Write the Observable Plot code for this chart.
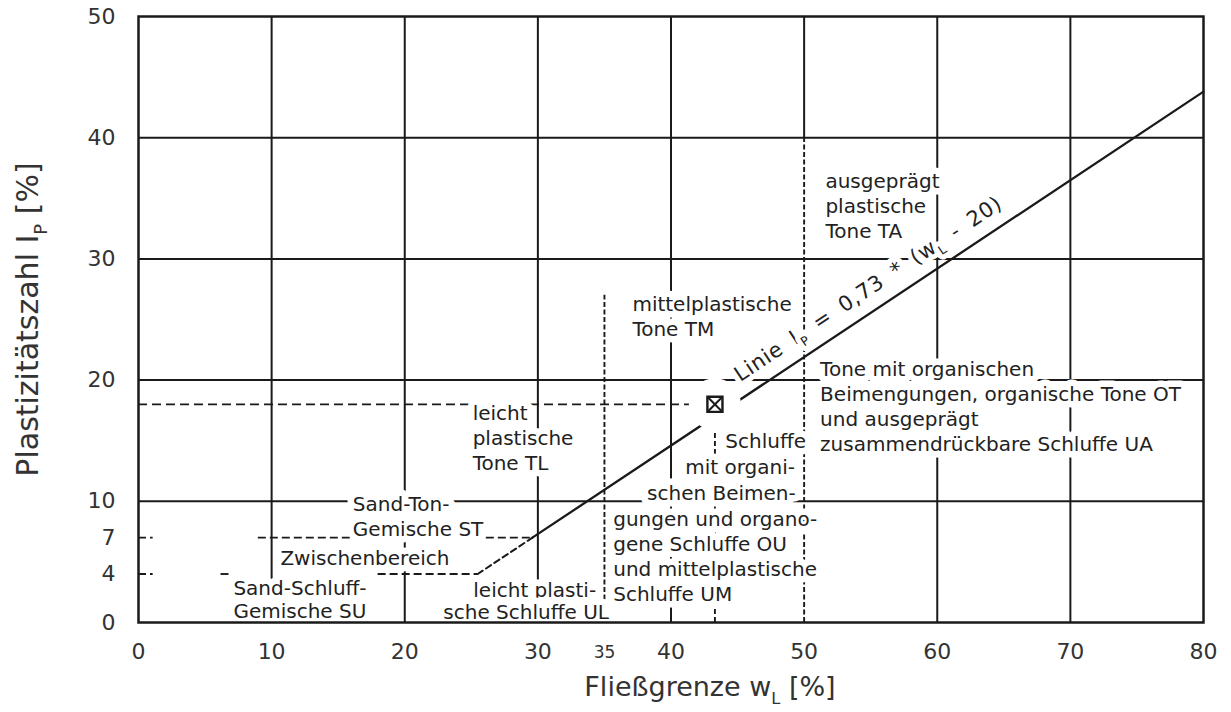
<!DOCTYPE html>
<html><head><meta charset="utf-8">
<script src="https://cdn.jsdelivr.net/npm/d3@7"></script>
<script src="https://cdn.jsdelivr.net/npm/@observablehq/plot@0.6"></script>
<style>
html,body{margin:0;padding:0;background:#fff;}
#chart svg{display:block;}
</style></head><body><div id="chart"></div>
<script>
// ---- data ----
const xTicks = [0, 10, 20, 30, 35, 40, 50, 60, 70, 80];
const yTicks = [0, 4, 7, 10, 20, 30, 40, 50];
const gridXFull = [10, 20, 30, 40, 60, 70];
const gridYFull = [10, 20, 30, 40];
const gridXPartial = [{x: 50, y1: 40, y2: 50}];
const aLineSolid = [{wL: 29.59, Ip: 7}, {wL: 80, Ip: 43.8}];
const aLineDashed = [{wL: 25.48, Ip: 4}, {wL: 29.59, Ip: 7}];
const sample = [{wL: 43.3, Ip: 18.0}];
const boundaryV = [{x: 35, y1: 0, y2: 27.0}, {x: 50, y1: 0, y2: 40}];
const boundaryH = [
  {y: 7, x1: 0, x2: 1.1}, {y: 7, x1: 9, x2: 29.59},
  {y: 4, x1: 0, x2: 1.1}, {y: 4, x1: 6.2, x2: 6.8}, {y: 4, x1: 18, x2: 25.48}
];
const projV = [{x: 43.3, y1: 0, y2: 18.0}];
const projH = [{y: 18.0, x1: 0, x2: 43.3}];
const zoneLabels = [
  {text: "ausgeprägt\nplastische\nTone TA", wL: 51.6, Ip: 37.3},
  {text: "mittelplastische\nTone TM", wL: 37.1, Ip: 27.2},
  {text: "Tone mit organischen\nBeimengungen, organische Tone OT\nund ausgeprägt\nzusammendrückbare Schluffe UA", wL: 51.2, Ip: 21.8},
  {text: "leicht\nplastische\nTone TL", wL: 25.1, Ip: 18.15},
  {text: "Sand-Ton-\nGemische ST", wL: 16.1, Ip: 10.7},
  {text: "Zwischenbereich", wL: 10.66, Ip: 6.2},
  {text: "Sand-Schluff-", wL: 7.13, Ip: 3.7},
  {text: "Gemische SU", wL: 7.13, Ip: 1.8},
  {text: "leicht plasti-", wL: 25.15, Ip: 3.6},
  {text: "sche Schluffe UL", wL: 22.9, Ip: 1.75},
  {text: "Schluffe", wL: 44.08, Ip: 15.84},
  {text: "mit organi-", wL: 41.07, Ip: 13.75},
  {text: "schen Beimen-", wL: 38.2, Ip: 11.58},
  {text: "gungen und organo-\ngene Schluffe OU\nund mittelplastische\nSchluffe UM", wL: 35.66, Ip: 9.43}
];
const formulaLabel = [{text: "Linie I_P = 0,73 * (w_L - 20)", wL: 45.2, Ip: 19.83}];
const xTitle = "Fließgrenze w_L [%]";
const yTitle = "Plastizitätszahl I_P [%]";

// ---- chart ----
const ink = "#1a1a1a";
const plot = Plot.plot({
  width: 1231,
  height: 712,
  marginLeft: 138,
  marginRight: 28,
  marginTop: 16,
  marginBottom: 90,
  style: {fontFamily: "'DejaVu Sans', Verdana, sans-serif", background: "#fff", color: "#222"},
  x: {domain: [0, 80]},
  y: {domain: [0, 50]},
  marks: [
    Plot.ruleX(gridXFull, {stroke: ink, strokeWidth: 2}),
    Plot.ruleY(gridYFull, {stroke: ink, strokeWidth: 2}),
    Plot.ruleX(gridXPartial, {x: "x", y1: "y1", y2: "y2", stroke: ink, strokeWidth: 2}),
    Plot.ruleX(boundaryV, {x: "x", y1: "y1", y2: "y2", stroke: ink, strokeWidth: 1.9, strokeDasharray: "5,2.5"}),
    Plot.ruleY(boundaryH, {y: "y", x1: "x1", x2: "x2", stroke: ink, strokeWidth: 1.9, strokeDasharray: "8,4"}),
    Plot.ruleX(projV, {x: "x", y1: "y1", y2: "y2", stroke: ink, strokeWidth: 1.9, strokeDasharray: "5,3"}),
    Plot.ruleY(projH, {y: "y", x1: "x1", x2: "x2", stroke: ink, strokeWidth: 1.9, strokeDasharray: "9,5"}),
    Plot.line(aLineSolid, {x: "wL", y: "Ip", stroke: ink, strokeWidth: 2.3}),
    Plot.line(aLineDashed, {x: "wL", y: "Ip", stroke: ink, strokeWidth: 2, strokeDasharray: "6,4"}),
    Plot.dot(sample, {x: "wL", y: "Ip", r: 26, fill: "white"}),
    Plot.dot(sample, {x: "wL", y: "Ip", r: 8.5, symbol: "square", fill: "white", stroke: ink, strokeWidth: 2.4}),
    Plot.dot(sample, {x: "wL", y: "Ip", r: 6.5, symbol: "times", stroke: ink, strokeWidth: 2}),
    Plot.text(zoneLabels, {
      x: "wL", y: "Ip", text: "text", textAnchor: "start", lineAnchor: "top",
      lineHeight: 1.25, fontSize: 20, fill: "#222",
      stroke: "white", strokeWidth: 13, paintOrder: "stroke", strokeLinejoin: "round"
    }),
    Plot.text(formulaLabel, {
      x: "wL", y: "Ip", text: "text", textAnchor: "start", lineAnchor: "bottom",
      rotate: -33.6, fontSize: 21, fill: "#222",
      stroke: "white", strokeWidth: 10, paintOrder: "stroke", strokeLinejoin: "round"
    }),
    Plot.frame({stroke: ink, strokeWidth: 2.5}),
    Plot.axisX(xTicks, {tickSize: 0, tickPadding: 21, fontSize: 22, color: "#333", label: null}),
    Plot.axisY(yTicks, {tickSize: 0, tickPadding: 23, fontSize: 22, color: "#333", label: null}),
    Plot.text([xTitle], {frameAnchor: "bottom", textAnchor: "middle", dx: 39, dy: 65, fontSize: 27, fill: "#333", lineAnchor: "middle"}),
    Plot.text([yTitle], {frameAnchor: "left", textAnchor: "middle", rotate: -90, dx: -110, fontSize: 30, fill: "#333", lineAnchor: "middle"})
  ]
});
document.getElementById("chart").appendChild(plot);

// formula spacing
d3.select(plot).selectAll("text").filter(function() { return this.textContent.startsWith("Linie"); })
  .attr("letter-spacing", 0.8).attr("word-spacing", 5);

// subscripts: "_X" -> small lowered X
(function subscripts(svg) {
  const nodes = [];
  const walker = document.createTreeWalker(svg, NodeFilter.SHOW_TEXT);
  while (walker.nextNode()) if (walker.currentNode.nodeValue.includes("_")) nodes.push(walker.currentNode);
  for (const node of nodes) {
    const parent = node.parentNode;
    const fs = parseFloat(getComputedStyle(parent).fontSize) || 16;
    const parts = node.nodeValue.split(/_(\w)/);
    const frag = document.createDocumentFragment();
    parts.forEach((p, i) => {
      const t = document.createElementNS("http://www.w3.org/2000/svg", "tspan");
      t.textContent = p;
      if (i % 2 === 1) { t.setAttribute("font-size", (fs * 0.6).toFixed(1)); t.setAttribute("dy", (fs * 0.28).toFixed(1)); }
      else if (i > 0) { t.setAttribute("dy", (-fs * 0.28).toFixed(1)); }
      frag.appendChild(t);
    });
    parent.replaceChild(frag, node);
  }
})(plot);

// smaller "35" tick label, nudged to sit on the same line as its neighbours
d3.select(plot).selectAll("text").filter(function() { return this.textContent === "35"; })
  .attr("font-size", 17).attr("dy", "0.15em");
</script></body></html>
